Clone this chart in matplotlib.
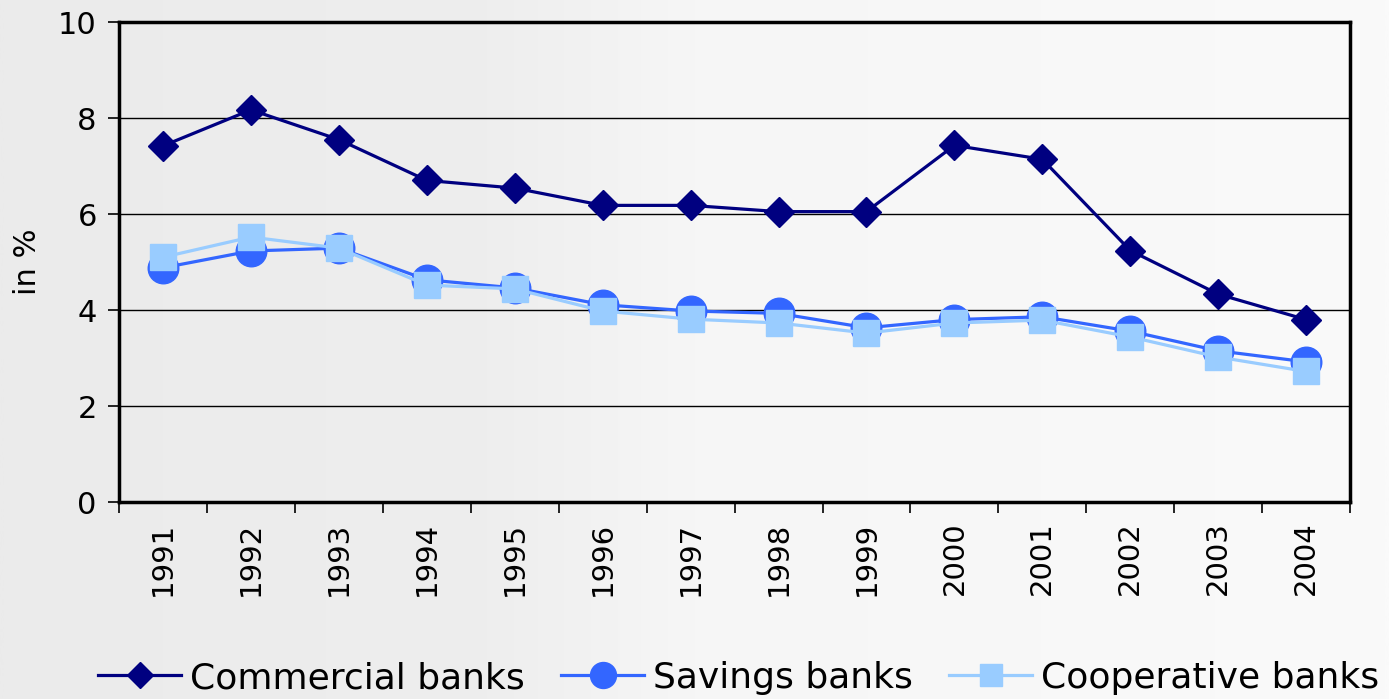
import numpy as np
import matplotlib.pyplot as plt
from matplotlib.colors import LinearSegmentedColormap

# Non-performing loan ratios by banking group
years = ['1991', '1992', '1993', '1994', '1995', '1996', '1997',
         '1998', '1999', '2000', '2001', '2002', '2003', '2004']
commercial = [7.42, 8.17, 7.55, 6.70, 6.54, 6.18, 6.18, 6.05, 6.05, 7.43, 7.14, 5.24, 4.33, 3.80]
savings = [4.88, 5.23, 5.29, 4.63, 4.46, 4.11, 3.98, 3.93, 3.63, 3.80, 3.86, 3.56, 3.15, 2.92]
cooperative = [5.10, 5.52, 5.29, 4.52, 4.44, 3.98, 3.81, 3.73, 3.52, 3.73, 3.79, 3.44, 3.02, 2.72]

fig = plt.figure(figsize=(13.89, 6.99), dpi=100)

# soft grey-to-white background across the whole figure
bg = fig.add_axes([0, 0, 1, 1], zorder=-10)
grad = np.linspace(0, 1, 512).reshape(1, -1)
cmap = LinearSegmentedColormap.from_list('bg', [(0, '#ebebeb'), (0.35, '#eeeeee'), (0.5, '#f6f6f6'), (1, '#fafafa')])
bg.imshow(grad, aspect='auto', cmap=cmap, extent=[0, 1, 0, 1])
bg.axis('off')

ax = fig.add_axes([0.0857, 0.2818, 0.8863, 0.6867])
ax.patch.set_alpha(0)

x = np.arange(len(years))
ax.plot(x, commercial, color='#000080', lw=2.3, marker='D', ms=15.5, label='Commercial banks', zorder=3)
ax.plot(x, savings, color='#3366ff', lw=2.3, marker='o', ms=22, label='Savings banks', zorder=4)
ax.plot(x, cooperative, color='#99ccff', lw=2.3, marker='s', ms=18.5, label='Cooperative banks', zorder=5)

ax.set_xlim(-0.5, len(years) - 0.5)
ax.set_ylim(0, 10)
ax.set_yticks([0, 2, 4, 6, 8, 10])
ax.yaxis.grid(True, color='black', lw=1)
ax.set_axisbelow(True)

# tick marks between categories, labels centred on them
ax.set_xticks(np.arange(len(years) + 1) - 0.5)
ax.set_xticklabels([])
ax.set_xticks(x, minor=True)
ax.set_xticklabels(years, minor=True, rotation=90, fontsize=21)
ax.tick_params(axis='x', which='minor', length=0, pad=14)
ax.tick_params(axis='x', which='major', length=8, width=1.2)
ax.tick_params(axis='y', labelsize=22, length=8, width=1.2, pad=8)

for side in ['left', 'bottom', 'right', 'top']:
    ax.spines[side].set_linewidth(2.5)

ax.set_ylabel('in %', fontsize=22)
ax.yaxis.set_label_coords(-0.0625, 0.5)

fig.legend(loc='center', bbox_to_anchor=(0.532, 0.03), ncol=3, frameon=False,
           fontsize=26, handlelength=2.3, handletextpad=0.25, columnspacing=1.0,
           borderaxespad=0, markerscale=0.85)

fig.savefig('out.png', dpi=100)
